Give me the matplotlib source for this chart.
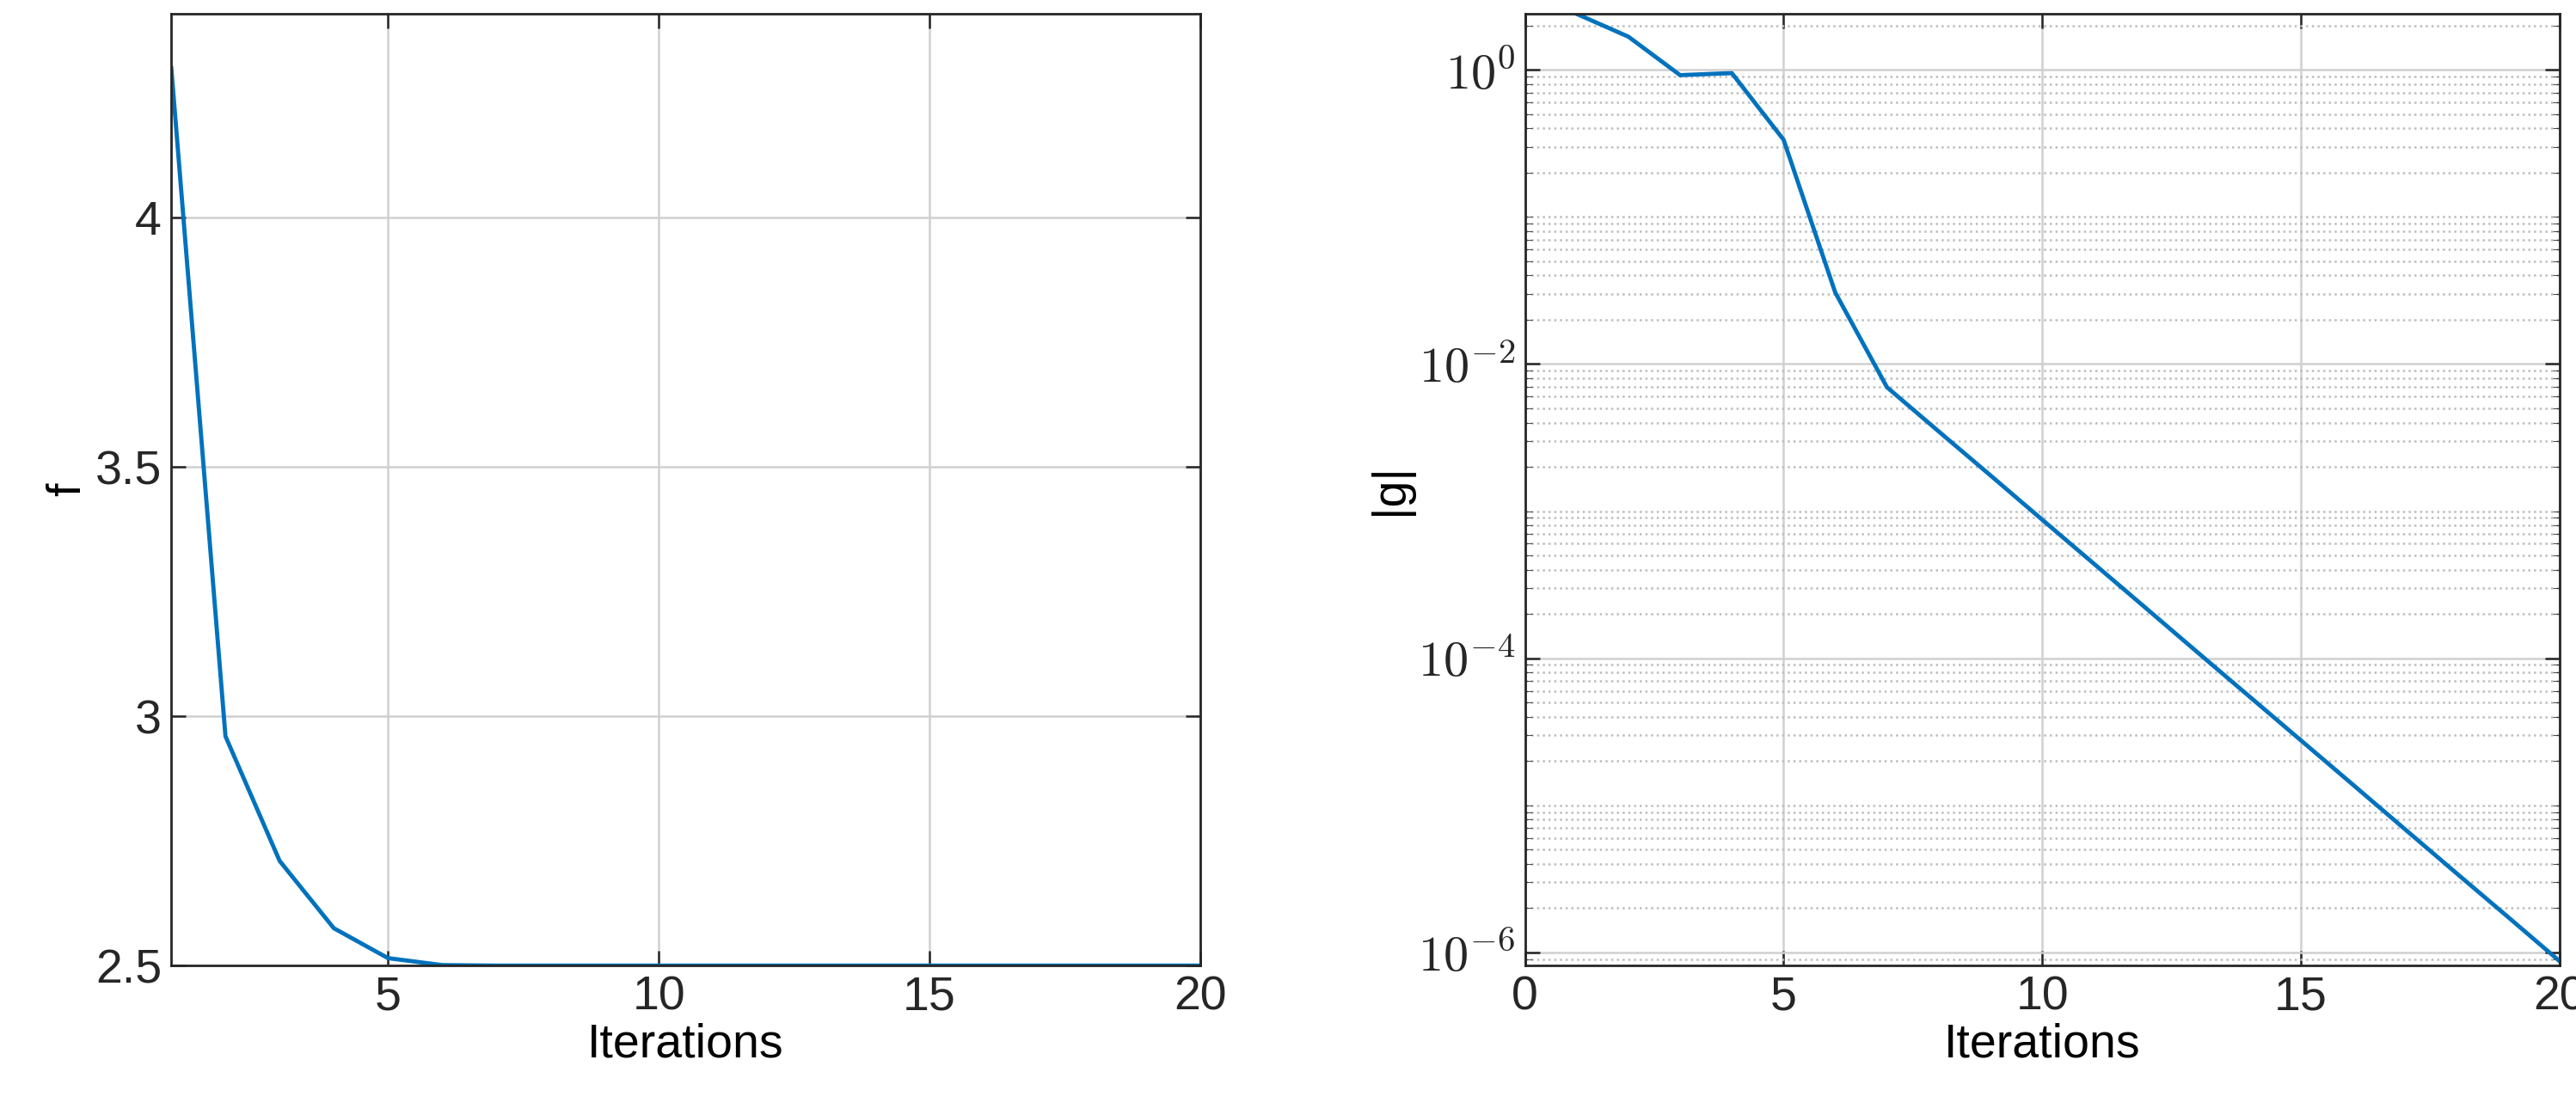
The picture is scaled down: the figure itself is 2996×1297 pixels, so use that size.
import math
import matplotlib.pyplot as plt
import matplotlib.ticker as mticker

iters = list(range(1, 21))
f_vals = [4.30, 2.96, 2.71, 2.575, 2.515, 2.501, 2.5, 2.5, 2.5, 2.5,
          2.5, 2.5, 2.5, 2.5, 2.5, 2.5, 2.5, 2.5, 2.5, 2.5]
g_vals = [2.4, 1.68, 0.92, 0.95, 0.335, 0.0306, 0.00695, 3.48e-3, 1.75e-3, 8.75e-4,
          4.39e-4, 2.20e-4, 1.10e-4, 5.52e-5, 2.77e-5, 1.39e-5, 6.95e-6, 3.48e-6, 1.75e-6, 8.75e-7]

plt.rcParams['font.family'] = ['Liberation Sans', 'DejaVu Sans']
plt.rcParams['mathtext.fontset'] = 'cm'
plt.rcParams['text.color'] = '#262626'
plt.rcParams['xtick.color'] = '#262626'
plt.rcParams['ytick.color'] = '#262626'
blue = '#0072BD'
fs = 40

fig = plt.figure(figsize=(29.96, 12.97), dpi=100)
ax1 = fig.add_axes([0.0665, 0.134, 0.3995, 0.854])
ax2 = fig.add_axes([0.592, 0.134, 0.4015, 0.854])

def style(ax):
    ax.tick_params(direction='in', top=True, right=True, labelsize=fs, length=12, width=1.8, pad=8)
    ax.tick_params(which='minor', direction='in', top=True, right=True, length=6)
    for s in ax.spines.values():
        s.set_linewidth(2)
        s.set_color('#262626')
    ax.grid(True, which='major', color='#d0d0d0', linewidth=1.8)
    ax.set_axisbelow(True)
    ax.set_xlabel('Iterations', fontsize=fs, labelpad=2)

ax1.plot(iters, f_vals, color=blue, lw=3.5)
ax1.set_xlim(1, 20)
ax1.set_ylim(2.5, 4.41)
ax1.set_xticks([5, 10, 15, 20])
ax1.set_yticks([2.5, 3, 3.5, 4])
ax1.set_yticklabels(['2.5', '3', '3.5', '4'])
ax1.set_ylabel('f', fontsize=fs, labelpad=4)
style(ax1)

ax2.plot(iters, g_vals, color=blue, lw=3.5)
ax2.set_yscale('log')
ax2.set_xlim(0, 20)
ax2.set_ylim(10**-6.09, 2.42)
ax2.set_xticks([0, 5, 10, 15, 20])
ax2.yaxis.set_major_locator(mticker.FixedLocator([1e-6, 1e-4, 1e-2, 1]))
ax2.yaxis.set_major_formatter(mticker.FuncFormatter(
    lambda v, p: r'$10^{%d}$' % round(math.log10(v))))
ax2.yaxis.set_minor_locator(mticker.LogLocator(base=10, subs=[1, 2, 3, 4, 5, 6, 7, 8, 9], numticks=20))
ax2.yaxis.set_minor_formatter(mticker.NullFormatter())
ax2.set_ylabel('|g|', fontsize=fs, labelpad=4)
style(ax2)
ax2.tick_params(axis='y', labelsize=fs + 2)
ax2.grid(True, which='minor', axis='y', color='#bdbdbd', linestyle=':', linewidth=1.8)

fig.savefig('out.png', dpi=100)
